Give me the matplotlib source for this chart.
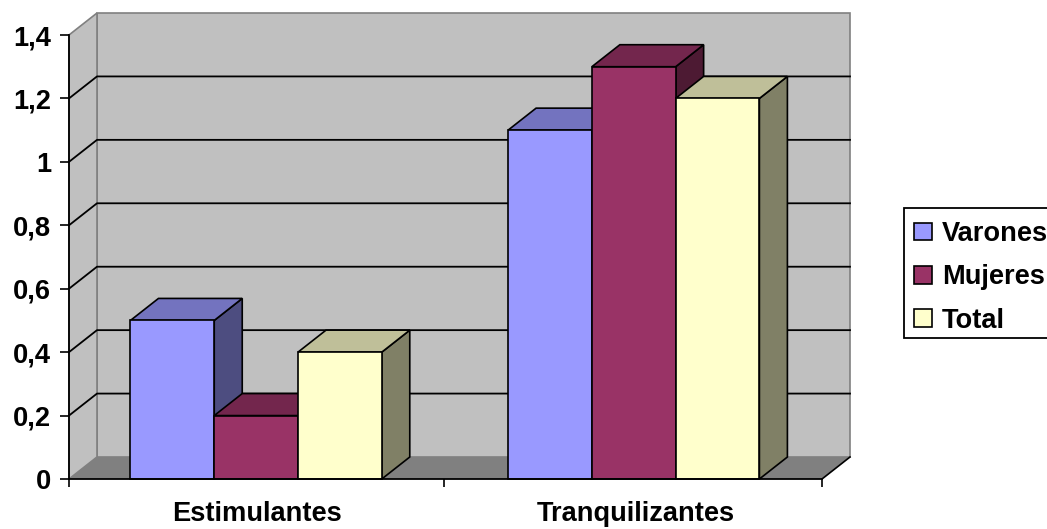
import matplotlib
matplotlib.use('Agg')
import matplotlib.pyplot as plt
from matplotlib.patches import Patch, Polygon, Rectangle

# =====================================================
# 1. Data
# =====================================================
categories = ['Estimulantes', 'Tranquilizantes']
series_names = ['Varones', 'Mujeres', 'Total']
varones = [0.5, 1.1]
mujeres = [0.2, 1.3]
total = [0.4, 1.2]
y_ticks = [0, 0.2, 0.4, 0.6, 0.8, 1.0, 1.2, 1.4]
y_labels = ['0', '0,2', '0,4', '0,6', '0,8', '1', '1,2', '1,4']

# =====================================================
# 2. Style
# =====================================================
front_colors = ['#9999FF', '#993366', '#FFFFCC']
top_colors = ['#7373BF', '#73264D', '#BFBF99']
side_colors = ['#4D4D80', '#4D1A33', '#808066']
wall_color = '#C0C0C0'
floor_color = '#808080'

W, H = 1047, 529
left, right, bottom, top = 69, 822, 479, 35
ymax = 1.4
depth_x = 28 / (right - left) * 2   # 3D offset in data units
depth_y = 22 / (bottom - top) * ymax
bar_w = 0.2225
font_size = 19.6

plt.rcParams['font.family'] = ['Liberation Sans', 'DejaVu Sans']
plt.rcParams['font.weight'] = 'bold'

fig = plt.figure(figsize=(W / 100, H / 100), dpi=100)
ax = fig.add_axes([left / W, 1 - bottom / H, (right - left) / W, (bottom - top) / H])
ax.set_xlim(0, 2)
ax.set_ylim(0, ymax)
ax.patch.set_visible(False)


def poly(points, color, edge='black', lw=1.2, z=3):
    ax.add_patch(Polygon(points, closed=True, facecolor=color, edgecolor=edge,
                         linewidth=lw, clip_on=False, zorder=z, joinstyle='miter'))


# =====================================================
# 3. Walls and floor
# =====================================================
poly([(depth_x, depth_y), (2 + depth_x, depth_y), (2 + depth_x, ymax + depth_y), (depth_x, ymax + depth_y)],
     wall_color, edge=floor_color, z=1)
poly([(0, 0), (depth_x, depth_y), (depth_x, ymax + depth_y), (0, ymax)], wall_color, edge=floor_color, z=1)
poly([(0, 0), (2, 0), (2 + depth_x, depth_y), (depth_x, depth_y)], floor_color, edge='none', z=1)
ax.plot([2, 2 + depth_x], [0, depth_y], color='black', lw=1.2, clip_on=False, zorder=2)

for t in y_ticks[1:-1]:
    ax.plot([0, depth_x, 2 + depth_x], [t, t + depth_y, t + depth_y], color='black', lw=1.3,
            clip_on=False, zorder=2)

# =====================================================
# 4. Bars
# =====================================================
for c in range(len(categories)):
    center = c + 0.5 - 0.003 * (1 - c)
    for s, values in enumerate([varones, mujeres, total]):
        x0 = center + (s - 1.5) * bar_w
        x1 = x0 + bar_w
        v = values[c]
        poly([(x1, 0), (x1 + depth_x, depth_y), (x1 + depth_x, v + depth_y), (x1, v)], side_colors[s])
        poly([(x0, v), (x1, v), (x1 + depth_x, v + depth_y), (x0 + depth_x, v + depth_y)], top_colors[s])
        poly([(x0, 0), (x1, 0), (x1, v), (x0, v)], front_colors[s])

# =====================================================
# 5. Axes, labels, legend
# =====================================================
for name in ['top', 'right']:
    ax.spines[name].set_visible(False)
for name in ['left', 'bottom']:
    ax.spines[name].set_linewidth(1.3)
    ax.spines[name].set_zorder(6)

ax.set_yticks(y_ticks)
ax.set_yticklabels(y_labels, fontsize=font_size, fontweight='bold')
ax.tick_params(axis='y', length=6.5, width=1.2, pad=6.5)
ax.set_xticks([0, 0.995, 2])
ax.set_xticklabels([])
ax.tick_params(axis='x', length=6, width=1.2)
ax.set_xticks([0.5, 1.505], minor=True)
ax.set_xticklabels(categories, minor=True, fontsize=font_size, fontweight='bold')
ax.tick_params(axis='x', which='minor', length=0, pad=15.7)

# legend box runs off the right edge of the picture, drawn apart from the entries
fig.add_artist(Rectangle((904 / W, 1 - 338 / H), 160 / W, 130 / H, transform=fig.transFigure,
                         facecolor='white', edgecolor='black', linewidth=1.3, zorder=7))
handles = [Patch(facecolor=col, edgecolor='black', linewidth=1.2) for col in front_colors]
leg = fig.legend(handles, series_names, loc='upper left', bbox_to_anchor=(905 / W, 1 - 212 / H),
                 bbox_transform=fig.transFigure, fontsize=font_size, frameon=False,
                 borderaxespad=0, borderpad=0.34,
                 handlelength=0.66, handleheight=0.62, handletextpad=0.35, labelspacing=0.63)
leg.set_zorder(8)

plt.savefig('out.png', dpi=100)
